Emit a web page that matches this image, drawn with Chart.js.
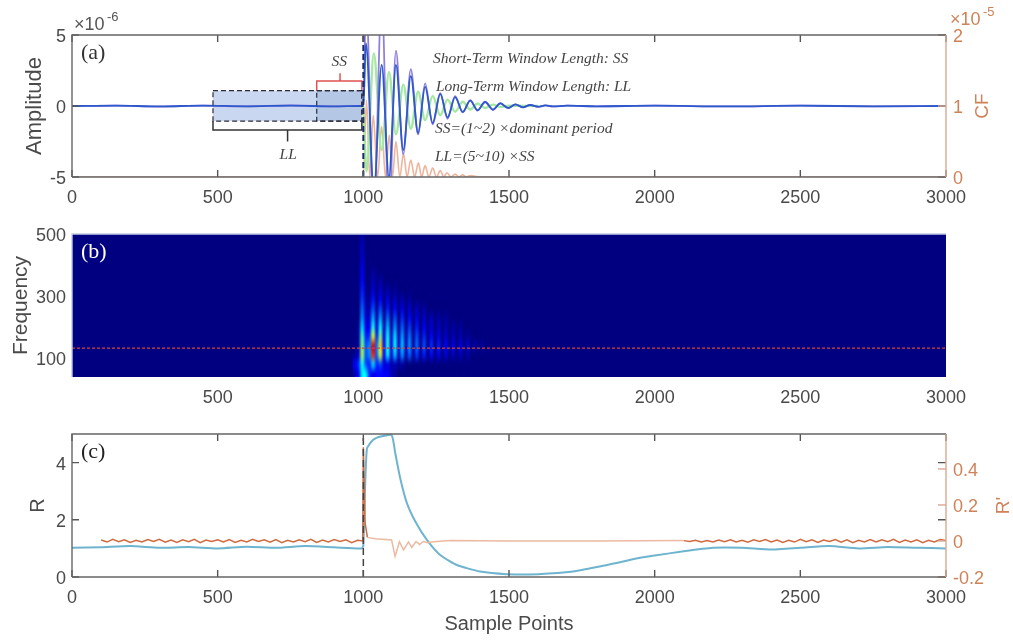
<!DOCTYPE html>
<html lang="en">
<head>
<meta charset="UTF-8">
<title>Short-term and long-term window picking</title>
<script src="https://cdn.jsdelivr.net/npm/chart.js"></script>
<style>
    body { margin: 0; background: #fff; }
    canvas { position: absolute; left: 0; filter: blur(0.7px); }
    #chartA { top: 0; }
    #chartB { top: 215px; }
    #chartC { top: 415px; }
</style>
</head>
<body>
<canvas id="chartA" width="1013" height="215"></canvas>
<canvas id="chartB" width="1013" height="200"></canvas>
<canvas id="chartC" width="1013" height="227"></canvas>

<script>
// tick labels
const sampleTicks = [0, 500, 1000, 1500, 2000, 2500, 3000];
const amplitudeTicks = [-5, 0, 5];
const cfTicks = [0, 1, 2];
const frequencyTicks = [100, 300, 500];
const rTicks = [0, 2, 4];
const rPrimeTicks = [-0.2, 0, 0.2, 0.4];

// panel (a), amplitude in 1e-6, CF in 1e-5
const waveSamples = [0, 150, 300, 450, 600, 750, 900, 990, 1000, 1009, 1036, 1063, 1088, 1112, 1137, 1163, 1188, 1212, 1238, 1264, 1289, 1315, 1341, 1367, 1392, 1418, 1445, 1470, 1497, 1522, 1548, 1573, 1600, 1625, 1650, 1700, 1800, 2000, 2250, 2500, 2750, 3000];
const purpleWave = [0, 0.03, -0.04, 0.02, -0.03, 0.04, -0.02, 0, 0, 7.5, -7.5, 7.5, -7.5, 3.9, -3.4, 2.6, -2, 1.6, -1.3, 0.9, -0.9, 0.7, -0.45, 0.42, -0.32, 0.3, -0.28, 0.2, -0.15, 0.12, -0.1, 0.08, -0.06, 0.05, -0.03, 0.02, -0.02, 0.02, -0.03, 0.02, -0.02, 0];
const blueWave = [0, 0.03, -0.03, 0.03, -0.02, 0.03, -0.03, 0, 0, 4.4, -6, 2.9, -5, 2.9, -3.1, 2.1, -1.9, 1.35, -1.2, 0.85, -0.8, 0.62, -0.42, 0.38, -0.3, 0.28, -0.25, 0.18, -0.14, 0.11, -0.09, 0.07, -0.05, 0.04, -0.03, 0.02, -0.02, 0.02, -0.03, 0.02, -0.02, 0];
const greenSamples = [1000, 1011, 1036, 1063, 1088, 1112, 1137, 1163, 1188, 1212, 1238, 1264, 1289, 1315, 1341, 1367, 1392, 1418, 1445, 1470, 1500, 1600];
const greenWave = [0, -4.6, 3.7, -3.1, 2.4, -2, 1.5, -1.6, 1, -1, 0.7, -0.65, 0.45, -0.4, 0.3, -0.25, 0.18, -0.14, 0.1, -0.06, 0.02, 0];
const cfSamples = [0, 998, 1000, 1011, 1022, 1034, 1049, 1063, 1076, 1089, 1100, 1112, 1125, 1138, 1150, 1163, 1176, 1189, 1200, 1212, 1225, 1238, 1251, 1264, 1276, 1287, 1301, 1315, 1328, 1341, 1354, 1367, 1400, 3000];
const cfValues = [0, 0, 0, 1.08, 0, 0.87, 0, 0.71, 0, 0.59, 0, 0.5, 0, 0.33, 0, 0.24, 0, 0.2, 0, 0.16, 0, 0.125, 0, 0.09, 0, 0.06, 0, 0.04, 0, 0.03, 0, 0.02, 0, 0];
const onsetSample = [1000, 1000];
const amplitudeRange = [-5, 5];

// windows drawn on panel (a): [start, end, low, high]
const longWindow = [484, 995, -1.06, 1.08];
const shortWindow = [840, 995, -1.06, 1.08];
const longBracketSamples = [484, 484, 995, 995];
const longBracketValues = [-1.06, -1.69, -1.69, -1.06];
const longStemSamples = [740, 740];
const longStemValues = [-1.69, -2.5];
const shortBracketSamples = [840, 840, 995, 995];
const shortBracketValues = [1.08, 1.76, 1.76, 1.08];
const shortStemSamples = [920, 920];
const shortStemValues = [1.76, 2.3];

// panel (b), spectrogram magnitude on a 0..10 scale, rows are top to bottom
const heatSamples = [971, 983.5, 996, 1008.5, 1021, 1033.5, 1046, 1058.5, 1071, 1083.5, 1096, 1108.5, 1121, 1133.5, 1146, 1158.5, 1171, 1183.5, 1196, 1208.5, 1221, 1233.5, 1246, 1258.5, 1271, 1283.5, 1296, 1308.5, 1321, 1333.5, 1346, 1358.5, 1371, 1383.5, 1396, 1408.5];
const heatFrequencies = [500, 470, 440, 410, 380, 350, 320, 290, 260, 230, 200, 170, 140, 110, 80, 50];
const heatValues = [
    [0, 0, 0.4],
    [0, 0, 0.6],
    [0, 0, 0.7],
    [0, 0, 0.9],
    [0, 0, 1.1, 0, 0, 0.3],
    [0, 0, 1.3, 0, 0, 0.6, 0, 0.4],
    [0, 0, 1.5, 0.2, 0, 0.9, 0, 0.8, 0, 0.5, 0, 0.3],
    [0, 0, 1.8, 0.3, 0.2, 1.4, 0, 1.2, 0, 1, 0, 0.7, 0, 0.5, 0, 0.3],
    [0, 0, 2.2, 0.5, 0.4, 2, 0.2, 1.9, 0, 1.5, 0, 1.3, 0, 1, 0, 0.8, 0, 0.6, 0, 0.4],
    [0, 0, 2.6, 0.7, 0.7, 2.9, 0.4, 2.8, 0.2, 2.3, 0.1, 2, 0, 1.6, 0, 1.3, 0, 1, 0, 0.8, 0, 0.6, 0, 0.4, 0, 0.3],
    [0, 0.2, 3.3, 1, 1.1, 4, 0.9, 3.8, 0.5, 3.1, 0.3, 2.7, 0.2, 2.2, 0.1, 1.8, 0, 1.5, 0, 1.2, 0, 0.9, 0, 0.7, 0, 0.5, 0, 0.4, 0, 0.3],
    [0, 0.3, 4.4, 1.6, 1.8, 6, 1.6, 5, 1, 3.9, 0.7, 3.5, 0.5, 2.8, 0.3, 2.4, 0.2, 2, 0.1, 1.6, 0, 1.3, 0, 1.1, 0, 0.8, 0, 0.6, 0, 0.5, 0, 0.3],
    [0, 0.4, 5, 2, 2.6, 9, 2.4, 6.6, 1.3, 4.2, 1, 3.8, 0.7, 3.2, 0.5, 2.7, 0.3, 2.3, 0.2, 2, 0.1, 1.7, 0, 1.5, 0, 1.3, 0, 1.1, 0, 1, 0, 0.8, 0, 0.5, 0, 0.3],
    [0.2, 0.7, 5.4, 2, 2.6, 8.4, 2.2, 6, 1.2, 3.8, 0.8, 3.2, 0.6, 2.7, 0.4, 2.2, 0.3, 1.8, 0.2, 1.5, 0, 1.3, 0, 1.1, 0, 0.9, 0, 0.7, 0, 0.6, 0, 0.4],
    [1.2, 1.7, 3.8, 2, 1.6, 3.4, 1.6, 2, 0.8, 1, 0.4, 0.6, 0.2, 0.4],
    [0.4, 1.2, 3.6, 3.6, 1.6, 1, 1.3, 1.3, 1.2, 1.1, 0.6, 0.3]
];
const ridgeSamples = [0, 3000];
const ridgeFrequency = [132, 132];

// panel (c)
const rSamples = [0, 100, 200, 300, 400, 500, 600, 700, 800, 900, 995, 1000, 1012, 1034, 1063, 1097, 1109, 1126, 1149, 1178, 1218, 1264, 1321, 1401, 1492, 1600, 1720, 1837, 1950, 2000, 2100, 2200, 2300, 2400, 2500, 2600, 2700, 2800, 2900, 3000];
const rValues = [1.02, 1.04, 1.08, 1.02, 1.05, 1, 1.06, 1.02, 1.08, 1.04, 1, 1.1, 4.47, 4.8, 4.92, 4.96, 4.36, 3.48, 2.6, 1.95, 1.3, 0.77, 0.42, 0.19, 0.1, 0.1, 0.19, 0.42, 0.67, 0.75, 0.9, 1.02, 1.02, 0.96, 1.02, 1.08, 1, 1.05, 1.02, 1];
const rPrimeSamples = [100, 120, 140, 160, 180, 200, 220, 240, 260, 280, 300, 320, 340, 360, 380, 400, 420, 440, 460, 480, 500, 520, 540, 560, 580, 600, 620, 640, 660, 680, 700, 720, 740, 760, 780, 800, 820, 840, 860, 880, 900, 920, 940, 960, 980, 998, 1000, 1006, 1014, 1040, 1097, 1109, 1124, 1138, 1155, 1166, 1181, 1193, 1206, 1220, 1240, 1300, 1500, 1800, 2100, 2120, 2140, 2160, 2180, 2200, 2220, 2240, 2260, 2280, 2300, 2320, 2340, 2360, 2380, 2400, 2420, 2440, 2460, 2480, 2500, 2520, 2540, 2560, 2580, 2600, 2620, 2640, 2660, 2680, 2700, 2720, 2740, 2760, 2780, 2800, 2820, 2840, 2860, 2880, 2900, 2920, 2940, 2960, 2980, 3000];
const rPrimeValues = [0.005, -0.006, 0.009, -0.004, 0.007, -0.008, 0.004, -0.006, 0.008, -0.003, 0.009, -0.007, 0.005, -0.008, 0.006, -0.004, 0.009, -0.009, 0.005, -0.003, 0.007, -0.006, 0.008, -0.008, 0.004, -0.005, 0.009, -0.003, 0.006, -0.007, 0.008, -0.009, 0.004, -0.005, 0.007, -0.004, 0.009, -0.008, 0.005, -0.006, 0.008, -0.003, 0.006, -0.009, 0.004, 0, 0.52, 0.1, 0.02, 0.012, 0.005, -0.085, -0.005, -0.05, -0.005, -0.035, -0.003, -0.02, -0.003, -0.01, -0.004, 0.002, 0, 0, 0.002, -0.003, 0.004, -0.005, 0.003, -0.006, 0.005, -0.004, 0.007, -0.005, 0.004, -0.007, 0.006, -0.003, 0.008, -0.006, 0.005, -0.008, 0.004, -0.006, 0.009, -0.004, 0.007, -0.008, 0.005, -0.003, 0.008, -0.007, 0.006, -0.009, 0.004, -0.005, 0.008, -0.006, 0.007, -0.004, 0.009, -0.008, 0.005, -0.006, 0.007, -0.009, 0.004, -0.005, 0.008, 0.003];
const rRange = [0, 5];

const PLOT_LEFT = 72, PLOT_RIGHT_GAP = 67;
const INK = '#4a4a4a', AXIS_ORANGE = '#d8a893', LABEL_ORANGE = '#cf8258';
const SANS = '"Liberation Sans", Arial, sans-serif';
const SERIF = '"Liberation Serif", "Times New Roman", serif';

Chart.defaults.font.family = SANS;
Chart.defaults.animation = false;

function points(xs, ys) {
    return xs.map((x, i) => ({ x: x, y: ys[i] }));
}

function lineSet(xs, ys, color, width, extra) {
    return Object.assign({
        data: points(xs, ys), borderColor: color, borderWidth: width,
        pointRadius: 0, tension: 0, fill: false, yAxisID: 'y'
    }, extra || {});
}

function fixedTicks(values) {
    return scale => { scale.ticks = values.map(v => ({ value: v })); };
}

// axis size is forced so that all three panels line up
function fixWidth(width) {
    return scale => {
        scale.width = width;
        scale.paddingTop = scale.paddingBottom = scale.paddingLeft = scale.paddingRight = 0;
    };
}

function fixHeight(height) {
    return scale => {
        scale.height = height;
        scale.paddingTop = scale.paddingBottom = scale.paddingLeft = scale.paddingRight = 0;
    };
}

function xAxis(height, hideZero, title) {
    return {
        type: 'linear', min: 0, max: 3000,
        afterBuildTicks: fixedTicks(sampleTicks), afterFit: fixHeight(height),
        grid: { display: false, drawTicks: false }, border: { display: false },
        title: title ? { display: true, text: title, color: INK, font: { size: 20 }, padding: { top: 2, bottom: 6 } } : { display: false },
        ticks: {
            autoSkip: false, maxRotation: 0, color: INK, font: { size: 18 }, padding: 10,
            callback: v => (hideZero && v === 0) ? '' : String(v)
        }
    };
}

function leftAxis(min, max, ticks, title, titleSize, titleGap) {
    return {
        position: 'left', min: min, max: max,
        afterBuildTicks: fixedTicks(ticks), afterFit: fixWidth(PLOT_LEFT),
        grid: { display: false, drawTicks: false }, border: { display: false },
        title: { display: true, text: title, color: INK, font: { size: titleSize }, padding: { top: titleGap, bottom: 0 } },
        ticks: { autoSkip: false, color: INK, font: { size: 18 }, padding: 6, labelOffset: 2, callback: v => String(v) }
    };
}

function rightAxis(min, max, ticks) {
    return {
        position: 'right', min: min, max: max,
        afterBuildTicks: fixedTicks(ticks), afterFit: fixWidth(PLOT_RIGHT_GAP),
        grid: { display: false, drawTicks: false }, border: { display: false },
        ticks: { autoSkip: false, color: LABEL_ORANGE, font: { size: 18 }, padding: 7, labelOffset: 2, callback: v => String(v) }
    };
}

// frame, inward ticks and the loose text of a panel
function framePlugin(opts) {
    return {
        id: 'frame',
        afterDraw(chart) {
            const ctx = chart.ctx, a = chart.chartArea, sx = chart.scales.x;
            ctx.save();
            ctx.lineWidth = 1.4;
            if (opts.ticks) {
                ctx.strokeStyle = '#555';
                sampleTicks.forEach(v => {
                    const x = sx.getPixelForValue(v);
                    ctx.beginPath();
                    ctx.moveTo(x, a.top); ctx.lineTo(x, a.top + 7);
                    ctx.moveTo(x, a.bottom); ctx.lineTo(x, a.bottom - 7);
                    ctx.stroke();
                });
                chart.scales.y.ticks.forEach(t => {
                    const y = chart.scales.y.getPixelForValue(t.value);
                    ctx.beginPath();
                    ctx.moveTo(a.left, y); ctx.lineTo(a.left + 7, y);
                    ctx.moveTo(a.right, y); ctx.lineTo(a.right - 8, y);
                    ctx.stroke();
                });
                ctx.strokeStyle = AXIS_ORANGE;
                chart.scales.y2.ticks.forEach(t => {
                    const y = chart.scales.y2.getPixelForValue(t.value);
                    ctx.beginPath();
                    ctx.moveTo(a.right, y); ctx.lineTo(a.right - 8, y);
                    ctx.stroke();
                });
            }
            ctx.strokeStyle = opts.ticks ? '#666' : '#c3cbe6';
            ctx.beginPath();
            ctx.moveTo(a.left, a.bottom); ctx.lineTo(a.left, a.top); ctx.lineTo(a.right, a.top);
            if (opts.ticks) { ctx.moveTo(a.left, a.bottom); ctx.lineTo(a.right, a.bottom); }
            ctx.stroke();
            if (opts.ticks) {
                ctx.strokeStyle = AXIS_ORANGE;
                ctx.beginPath();
                ctx.moveTo(a.right, a.top); ctx.lineTo(a.right, a.bottom);
                ctx.stroke();
            }
            ctx.textBaseline = 'middle';
            ctx.textAlign = 'left';
            ctx.fillStyle = opts.panelColor;
            ctx.font = '22px ' + SERIF;
            ctx.fillText(opts.panel, a.left + 9, a.top + 18);
            if (opts.rightTitle) {
                ctx.save();
                ctx.translate(opts.rightTitleX, (a.top + a.bottom) / 2);
                ctx.rotate(-Math.PI / 2);
                ctx.textAlign = 'center';
                ctx.fillStyle = LABEL_ORANGE;
                ctx.font = '19px ' + SANS;
                ctx.fillText(opts.rightTitle, 0, 0);
                ctx.restore();
            }
            ctx.restore();
        }
    };
}

function drawWindow(chart, w, fill) {
    const ctx = chart.ctx, sx = chart.scales.x, sy = chart.scales.y;
    const x0 = sx.getPixelForValue(w[0]), x1 = sx.getPixelForValue(w[1]);
    const y0 = sy.getPixelForValue(w[3]), y1 = sy.getPixelForValue(w[2]);
    ctx.fillStyle = fill;
    ctx.fillRect(x0, y0, x1 - x0, y1 - y0);
}

function outlineWindow(chart, w) {
    const ctx = chart.ctx, sx = chart.scales.x, sy = chart.scales.y;
    const x0 = sx.getPixelForValue(w[0]), x1 = sx.getPixelForValue(w[1]);
    const y0 = sy.getPixelForValue(w[3]), y1 = sy.getPixelForValue(w[2]);
    ctx.strokeStyle = '#2b2b3a';
    ctx.lineWidth = 1.2;
    ctx.setLineDash([5, 3]);
    ctx.strokeRect(x0, y0, x1 - x0, y1 - y0);
    ctx.setLineDash([]);
}

// text sitting on panel (a), placed in data units
const notes = [
    ['Short-Term Window Length: SS', 1239, 3.3],
    ['Long-Term Window Length: LL', 1249, 1.34],
    ['SS=(1~2) ×dominant period', 1246, -1.6],
    ['LL=(5~10) ×SS', 1246, -3.6],
    ['SS', 917, 3.1],
    ['LL', 742, -3.45]
];

const windowPlugin = {
    id: 'windows',
    beforeDatasetsDraw(chart) {
        drawWindow(chart, longWindow, '#c9d8f0');
        drawWindow(chart, shortWindow, '#b4c7e5');
    },
    afterDatasetsDraw(chart) {
        const ctx = chart.ctx, sx = chart.scales.x, sy = chart.scales.y;
        ctx.save();
        outlineWindow(chart, longWindow);
        outlineWindow(chart, shortWindow);
        ctx.textBaseline = 'middle';
        ctx.fillStyle = '#444';
        ctx.font = 'italic 15.5px ' + SERIF;
        notes.forEach(n => {
            ctx.textAlign = n[1] < 1000 ? 'center' : 'left';
            ctx.fillText(n[0], sx.getPixelForValue(n[1]), sy.getPixelForValue(n[2]));
        });
        // x10^n multipliers over the two y axes
        ctx.textAlign = 'left';
        ctx.font = '18px ' + SANS;
        ctx.fillStyle = '#555';
        ctx.fillText('×10', 74, 25);
        ctx.font = '13px ' + SANS;
        ctx.fillText('-6', 107, 17);
        ctx.font = '18px ' + SANS;
        ctx.fillStyle = LABEL_ORANGE;
        ctx.fillText('×10', 950, 20);
        ctx.font = '13px ' + SANS;
        ctx.fillText('-5', 983, 12);
        ctx.restore();
    }
};

// jet colormap, 0..10 input
function jet(v) {
    const t = Math.min(1, Math.max(0, v / 10));
    const ch = c => Math.round(255 * Math.min(1, Math.max(0, 1.5 - Math.abs(4 * t - c))));
    return [ch(3), ch(2), ch(1)];
}

const heatPlugin = {
    id: 'heat',
    beforeDatasetsDraw(chart) {
        const ctx = chart.ctx, a = chart.chartArea, sx = chart.scales.x, sy = chart.scales.y;
        const cols = heatSamples.length, rows = heatFrequencies.length;
        const off = document.createElement('canvas');
        off.width = cols; off.height = rows;
        const offCtx = off.getContext('2d');
        const img = offCtx.createImageData(cols, rows);
        heatValues.forEach((row, r) => {
            for (let c = 0; c < cols; c++) {
                const rgb = jet(row[c] || 0), i = (r * cols + c) * 4;
                img.data[i] = rgb[0]; img.data[i + 1] = rgb[1]; img.data[i + 2] = rgb[2]; img.data[i + 3] = 255;
            }
        });
        offCtx.putImageData(img, 0, 0);
        const halfCol = (heatSamples[1] - heatSamples[0]) / 2;
        const halfRow = (heatFrequencies[0] - heatFrequencies[1]) / 2;
        const x0 = sx.getPixelForValue(heatSamples[0] - halfCol);
        const x1 = sx.getPixelForValue(heatSamples[cols - 1] + halfCol);
        const y0 = sy.getPixelForValue(heatFrequencies[0] + halfRow);
        const y1 = sy.getPixelForValue(heatFrequencies[rows - 1] - halfRow);
        const base = jet(0);
        ctx.save();
        ctx.beginPath();
        ctx.rect(a.left, a.top, a.right - a.left, a.bottom - a.top);
        ctx.clip();
        ctx.fillStyle = 'rgb(' + base.join(',') + ')';
        ctx.fillRect(a.left, a.top, a.right - a.left, a.bottom - a.top);
        ctx.imageSmoothingEnabled = true;
        ctx.imageSmoothingQuality = 'high';
        ctx.drawImage(off, x0, y0, x1 - x0, y1 - y0);
        ctx.restore();
    }
};

new Chart(document.getElementById('chartA'), {
    type: 'line',
    data: {
        datasets: [
            lineSet(onsetSample, amplitudeRange, '#1c2a6e', 2, { borderDash: [6, 3] }),
            lineSet(longBracketSamples, longBracketValues, '#333', 1.5),
            lineSet(longStemSamples, longStemValues, '#333', 1.5),
            lineSet(shortBracketSamples, shortBracketValues, '#e0534f', 1.5),
            lineSet(shortStemSamples, shortStemValues, '#e0534f', 1.5),
            lineSet(waveSamples, blueWave, '#2f58cc', 1.8, { cubicInterpolationMode: 'monotone' }),
            lineSet(waveSamples, purpleWave, '#8f7fdc', 1.8, { cubicInterpolationMode: 'monotone' }),
            lineSet(greenSamples, greenWave, '#a5e8a2', 2.4, { cubicInterpolationMode: 'monotone' }),
            lineSet(cfSamples, cfValues, '#eeb49c', 1.6, { yAxisID: 'y2', cubicInterpolationMode: 'monotone' })
        ]
    },
    options: {
        responsive: false,
        layout: { padding: { top: 35 } },
        plugins: { legend: { display: false }, tooltip: { enabled: false } },
        scales: {
            x: xAxis(38, false),
            y: leftAxis(-5, 5, amplitudeTicks, 'Amplitude', 22, 22),
            y2: rightAxis(0, 2, cfTicks)
        }
    },
    plugins: [windowPlugin, framePlugin({ ticks: true, panel: '(a)', panelColor: '#333', rightTitle: 'CF', rightTitleX: 983 })]
});

new Chart(document.getElementById('chartB'), {
    type: 'line',
    data: {
        datasets: [lineSet(ridgeSamples, ridgeFrequency, '#d8433a', 1.2, { borderDash: [3, 2] })]
    },
    options: {
        responsive: false,
        layout: { padding: { top: 19, right: PLOT_RIGHT_GAP } },
        plugins: { legend: { display: false }, tooltip: { enabled: false } },
        scales: {
            x: xAxis(38, true),
            y: leftAxis(39, 500, frequencyTicks, 'Frequency', 21, 9)
        }
    },
    plugins: [heatPlugin, framePlugin({ ticks: false, panel: '(b)', panelColor: '#fff' })]
});

// the part of R' between the spike and the noisy tail is drawn much paler
const quietColor = ctx => (ctx.p0.parsed.x >= 1010 && ctx.p0.parsed.x < 2100) ? '#ecb9a2' : undefined;

new Chart(document.getElementById('chartC'), {
    type: 'line',
    data: {
        datasets: [
            lineSet(onsetSample, rRange, '#444', 1.5, { borderDash: [7, 4] }),
            lineSet(rPrimeSamples, rPrimeValues, '#cf6a3e', 1.5, { yAxisID: 'y2', segment: { borderColor: quietColor } }),
            lineSet(rSamples, rValues, '#6fb4cf', 2, { tension: 0.2 })
        ]
    },
    options: {
        responsive: false,
        layout: { padding: { top: 19 } },
        plugins: { legend: { display: false }, tooltip: { enabled: false } },
        scales: {
            x: xAxis(65, false, 'Sample Points'),
            y: leftAxis(0, 5, rTicks, 'R', 20, 26),
            y2: rightAxis(-0.2, 0.594, rPrimeTicks)
        }
    },
    plugins: [framePlugin({ ticks: true, panel: '(c)', panelColor: '#222', rightTitle: "R'", rightTitleX: 1004 })]
});
</script>
</body>
</html>
